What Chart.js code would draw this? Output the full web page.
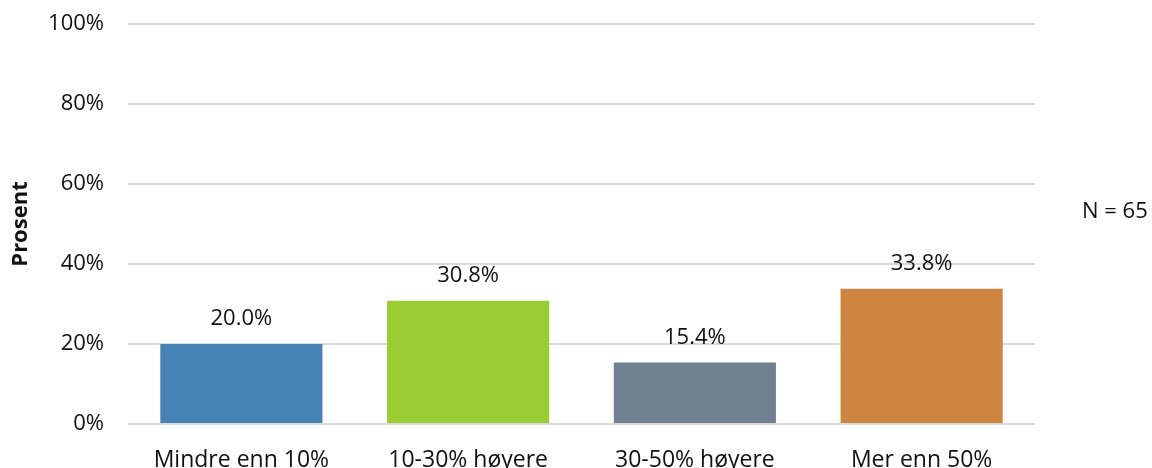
<!DOCTYPE html>
<html lang="no">
<head>
  <meta charset="UTF-8" />
  <title>Prosent</title>
  <script src="https://cdn.jsdelivr.net/npm/chart.js"></script>
  <style>
    html, body { margin: 0; padding: 0; background: #fff; }
    #wrap { width: 1152px; height: 468px; }
  </style>
</head>
<body>
<div id="wrap"><canvas id="chart"></canvas></div>
<script>
  const categories = ['Mindre enn 10%', '10-30% høyere', '30-50% høyere', 'Mer enn 50%'];
  const values = [20.0, 30.8, 15.4, 33.8];
  const barColors = ['#4682b4', '#9acd32', '#708090', '#cd853f'];
  const yTicks = [0, 20, 40, 60, 80, 100];
  const nText = 'N = 65';

  const FONT = "'Open Sans', sans-serif";

  // value labels above bars, N note on the right, y title
  const labelPlugin = {
    id: 'labels',
    afterDatasetsDraw(chart) {
      const ctx = chart.ctx;
      const meta = chart.getDatasetMeta(0);
      ctx.save();
      ctx.font = '22px ' + FONT;
      ctx.fillStyle = '#111';
      ctx.textAlign = 'center';
      ctx.textBaseline = 'middle';
      meta.data.forEach((bar, i) => {
        ctx.fillText(values[i].toFixed(1) + '%', bar.x, bar.y - 25);
      });
      ctx.textAlign = 'left';
      ctx.fillText(nText, 1082, 212);
      // y axis title
      const area = chart.chartArea;
      ctx.translate(21, (area.top + area.bottom) / 2);
      ctx.rotate(-Math.PI / 2);
      ctx.textAlign = 'center';
      ctx.font = 'bold 22px ' + FONT;
      ctx.fillText('Prosent', 0, 0);
      ctx.restore();
    }
  };

  new Chart(document.getElementById('chart'), {
    type: 'bar',
    data: {
      labels: categories,
      datasets: [{
        data: values,
        backgroundColor: barColors,
        barPercentage: 0.715,
        categoryPercentage: 1.0
      }]
    },
    options: {
      responsive: true,
      maintainAspectRatio: false,
      animation: false,
      layout: { padding: { top: 24, right: 117, left: 0, bottom: 0 } },
      plugins: { legend: { display: false }, tooltip: { enabled: false } },
      scales: {
        x: {
          grid: { display: false },
          border: { display: false },
          ticks: { color: '#111', font: { family: FONT, size: 23 }, padding: 15, maxRotation: 0 },
          afterFit(s) { s.height = 44; }
        },
        y: {
          min: 0,
          max: 100,
          afterBuildTicks(s) { s.ticks = yTicks.map(v => ({ value: v })); },
          grid: { color: '#d9d9d9', lineWidth: 2, drawTicks: false },
          border: { display: false },
          ticks: {
            color: '#111',
            font: { family: FONT, size: 22 },
            padding: 24,
            callback: v => v + '%'
          },
          afterFit(s) { s.width = 128; s.paddingTop = 0; s.paddingBottom = 0; }
        }
      }
    },
    plugins: [labelPlugin]
  });
</script>
</body>
</html>
